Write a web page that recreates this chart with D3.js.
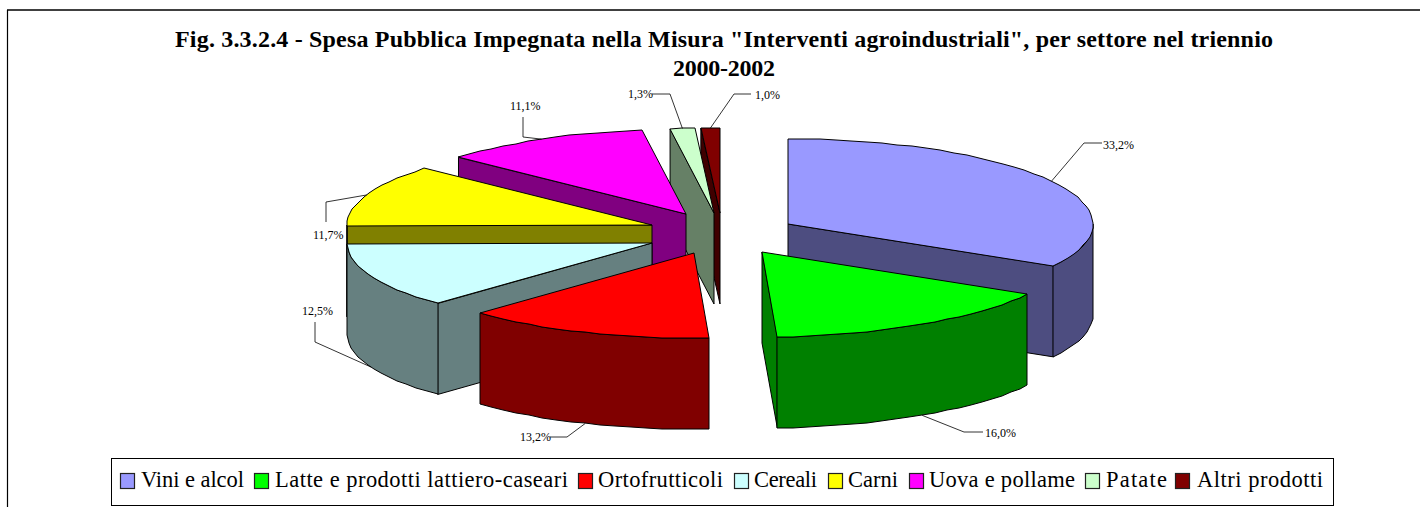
<!DOCTYPE html>
<html><head><meta charset="utf-8">
<script src="https://cdn.jsdelivr.net/npm/d3@7/dist/d3.min.js"></script>
<style>html,body{margin:0;padding:0;background:#fff;overflow:hidden}svg{display:block}text{font-family:"Liberation Serif","Times New Roman",serif;fill:#000}</style>
</head><body><svg id="c" width="1420" height="507"></svg>
<script>
// ---- data ----
const categories = ["Vini e alcol","Latte e prodotti lattiero-caseari","Ortofrutticoli","Cereali","Carni","Uova e pollame","Patate","Altri prodotti"];
const values = [33.2,16.0,13.2,12.5,11.7,11.1,1.3,1.0];
const valueLabels = ["33,2%","16,0%","13,2%","12,5%","11,7%","11,1%","1,3%","1,0%"];
const topColors = ["#9999FF","#00FF00","#FF0000","#CCFFFF","#FFFF00","#FF00FF","#CCFFCC","#800000"];
const sideColors = ["#4D4D80","#008000","#800000","#668080","#808000","#800080","#668066","#400000"];
const titleLines = ["Fig. 3.3.2.4 - Spesa Pubblica Impegnata nella Misura \"Interventi agroindustriali\", per settore nel triennio","2000-2002"];
// ---- layout ----
const apexX = [788,762,694,652,652,686,714,720];   // exploded slice centres
const apexY = [224,252,253,243,225,214,213,213];
const drawOrder = [7,6,5,4,0,3,2,1];
const rimRx = 305, rimRy = 85, depth = 91;
const leaderElbow = [[1084,143],[964,432],[567,437],[315,342],[326,202],[523,137],[670,94],[734,94]];
const leaderEnd = [[1102,143],[983,432],[550,437],[315,322],[326,222],[523,117],[652,94],[751,94]];
const labelPos = [[1103,149],[985,437],[520,441],[302,315],[313,239],[510,110],[628,98],[755,99]];
const legendSwatchX = [120,254,578,734,828,909,1085,1175];
const legendTextX = [141,275,598,754,848,929,1106,1197];
const legendTextW = [103,293,125,63,50,146,61,126];

const svg = d3.select("#c");
const sx = d3.scaleLinear().domain([-1,1]).range([-rimRx,rimRx]);
const sy = d3.scaleLinear().domain([-1,1]).range([-rimRy,rimRy]);
const pie = d3.pie().sort(null).value(d=>d).startAngle(0).endAngle(2*Math.PI);
const arcs = pie(values);
const pt = (i,a,dz=0)=>[apexX[i]+sx(Math.sin(a)), apexY[i]-sy(Math.cos(a))+dz];
const line = d3.line();
const STEP = Math.PI/60;
function rim(i,a0,a1,dz=0){
  const n=Math.max(1,Math.ceil((a1-a0)/STEP)), p=[];
  for(let k=0;k<=n;k++){ const q=pt(i,a0+(a1-a0)*k/n,dz); p.push([Math.round(q[0]),Math.round(q[1])]); }
  return p;
}
// frame
svg.append("line").attr("x1",7).attr("x2",1420).attr("y1",10).attr("y2",10).attr("stroke","#000").attr("stroke-width",1.4);
svg.append("line").attr("x1",7.5).attr("x2",7.5).attr("y1",10).attr("y2",507).attr("stroke","#000").attr("stroke-width",1.2);
// title
svg.selectAll("text.t").data(titleLines).join("text").attr("class","t")
  .attr("x",724).attr("y",(d,i)=>47+i*29).attr("text-anchor","middle")
  .attr("font-size",24).attr("font-weight","bold").attr("textLength",(d,i)=>i?102:1098).text(d=>d);
// slices
const g = svg.append("g");
const stroke = s=>s.attr("stroke","#000").attr("stroke-width",1).attr("stroke-linejoin","round");
drawOrder.forEach(i=>{
  const a0=arcs[i].startAngle,a1=arcs[i].endAngle, apex=[apexX[i],apexY[i]], bottom=[apexX[i],apexY[i]+depth];
  const s=g.append("g");
  [a0,a1].forEach((a,j)=>{
    const vis = j===0 ? Math.sin(a)<-1e-6 : Math.sin(a)>1e-6;
    if(!vis) return;
    const e=pt(i,a),f=pt(i,a,depth);
    stroke(s.append("path").attr("d",line([apex,e,f,bottom])+"Z").attr("fill",sideColors[i]));
  });
  const ra0=Math.max(a0,Math.PI/2), ra1=Math.min(a1,3*Math.PI/2);
  if(ra1>ra0){
    const up=rim(i,ra0,ra1), dn=rim(i,ra0,ra1,depth).reverse();
    stroke(s.append("path").attr("d",line(up.concat(dn))+"Z").attr("fill",sideColors[i]));
  }
  stroke(s.append("path").attr("d",line([apex].concat(rim(i,a0,a1)))+"Z").attr("fill",topColors[i]));
});
// leaders & labels
arcs.forEach((d,i)=>{
  const m=(d.startAngle+d.endAngle)/2;
  const front=Math.cos(m)<0;
  const a=pt(i,m,front?depth:0);
  svg.append("path").attr("d",line([a,leaderElbow[i],leaderEnd[i]])).attr("fill","none").attr("stroke","#000").attr("stroke-width",0.8);
  svg.append("text").attr("x",labelPos[i][0]).attr("y",labelPos[i][1]).attr("font-size",12).text(valueLabels[i]);
});
// legend
svg.append("rect").attr("x",111.5).attr("y",458.5).attr("width",1222).attr("height",47).attr("fill","#fff").attr("stroke","#000").attr("stroke-width",1);
categories.forEach((c,i)=>{
  svg.append("rect").attr("x",legendSwatchX[i]+.5).attr("y",473.5).attr("width",14).attr("height",15)
    .attr("fill",topColors[i]).attr("stroke","#222").attr("stroke-width",1.2);
  svg.append("text").attr("x",legendTextX[i]).attr("y",487).attr("font-size",22.5)
    .attr("textLength",legendTextW[i]).text(c);
});
</script></body></html>
